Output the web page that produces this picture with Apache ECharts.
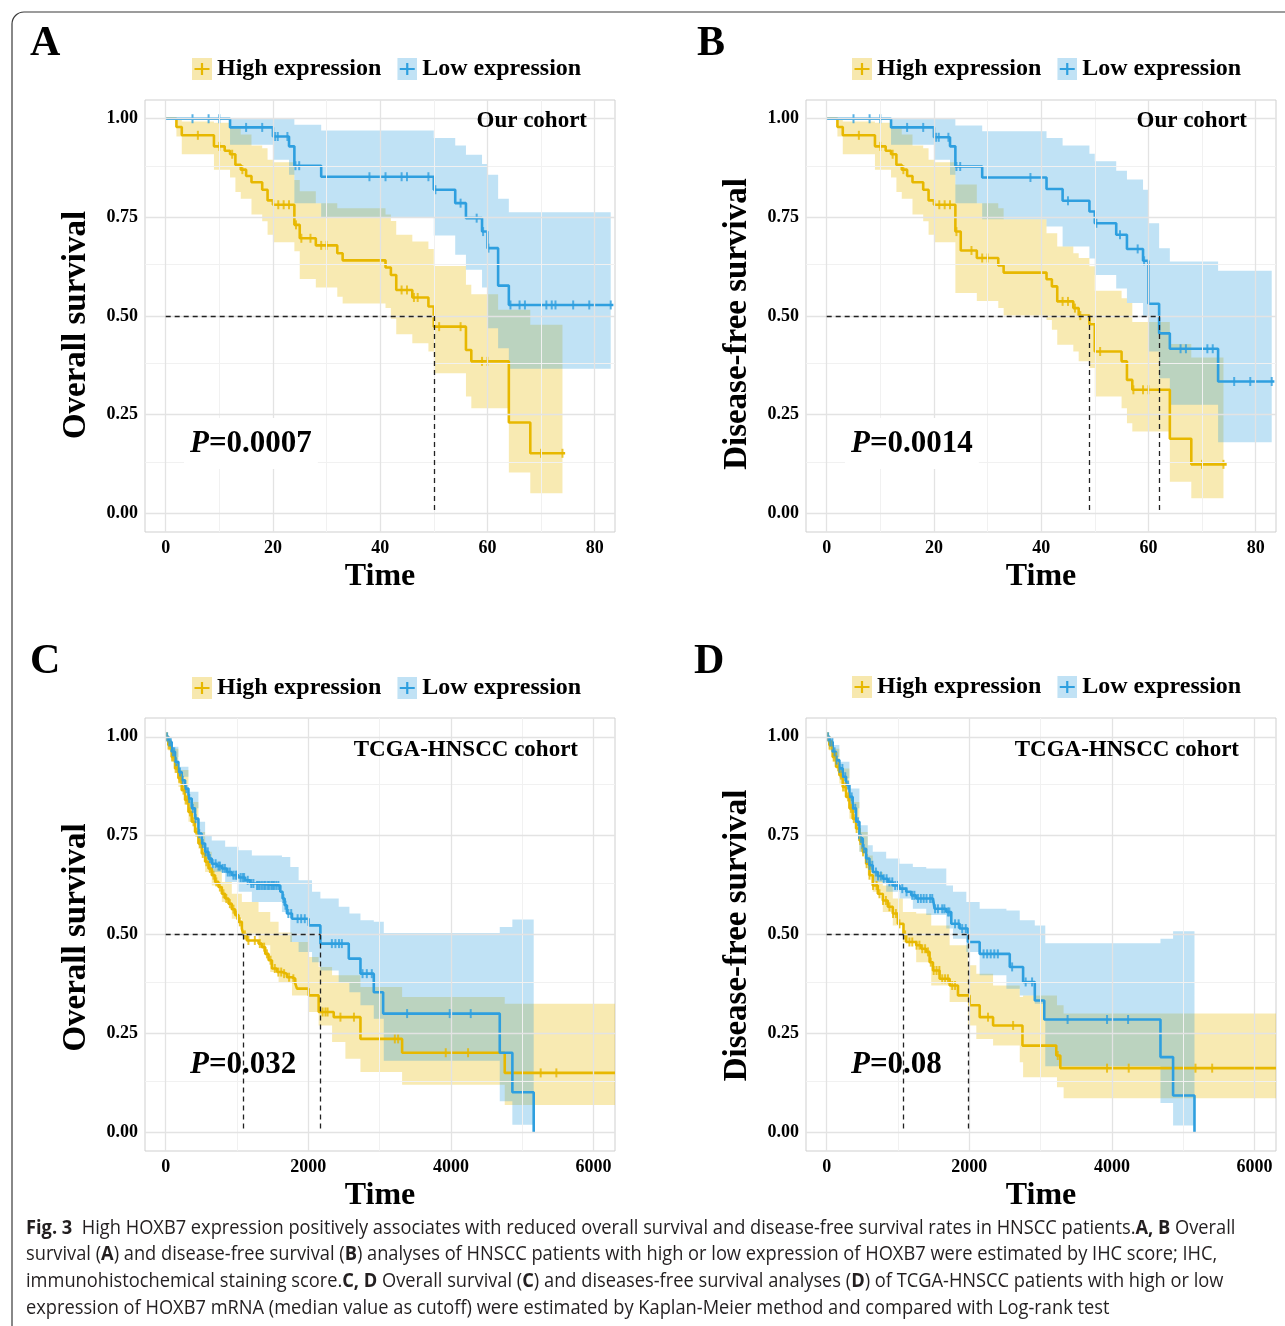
<!DOCTYPE html>
<html><head><meta charset="utf-8">
<script src="https://cdn.jsdelivr.net/npm/echarts@6/dist/echarts.min.js"></script>
<style>html,body{margin:0;padding:0;background:#fff}#c{width:1285px;height:1326px}</style>
</head><body><div id="c"></div>
<script>
// ---------------- DATA ----------------
const legendNames = ['High expression', 'Low expression'];
const yTicks = [0, 0.25, 0.5, 0.75, 1];
const yMinorTicks = [0.125, 0.375, 0.625, 0.875];
const xTicksMonths = [0, 20, 40, 60, 80];
const xMinorMonths = [10, 30, 50, 70];
const xTicksDays = [0, 2000, 4000, 6000];
const xMinorDays = [1000, 3000, 5000];

// Panel A (Our cohort, overall survival)
const aHighT = [0,2,3,9,11,12,13,14,15,16,18,19,20,24,25,28,32,33,41,42,43,46,49,50,56,57,64,68,74.5];
const aHighS = [1,0.979,0.958,0.930,0.919,0.910,0.883,0.871,0.855,0.839,0.820,0.793,0.782,0.731,0.697,0.679,0.659,0.641,0.623,0.604,0.566,0.547,0.524,0.473,0.414,0.385,0.230,0.152,0.152];
const aHighCens = [6,10,12.4,14.3,21,22,23,24.3,25.3,27,29,30,44,45,46.3,47,51,55,59,60,70,74];
const aLowT = [0,12,20,23,24,29,50,54,56,59,60,62,64,83.5];
const aLowS = [1,0.978,0.955,0.930,0.881,0.853,0.820,0.786,0.748,0.714,0.672,0.577,0.528,0.528];
const aLowCens = [5,8,10,15,18,20.4,20.9,22.7,24.2,24.9,38,41,44,45,49,50.3,55,58,59.2,60.2,64.3,66,67,71,72,72.7,76,79,83];
const aHighBandT = [0,2,3,9,12,13,14,16,18,19,20,24,25,28,32,33,41,42,43,46,49,50,56,57,62,64,68,74];
const aHighBandLo = [1,0.955,0.910,0.871,0.851,0.814,0.797,0.757,0.740,0.706,0.687,0.664,0.594,0.572,0.549,0.532,0.520,0.493,0.454,0.431,0.410,0.355,0.296,0.266,0.266,0.103,0.051,0.051];
const aHighBandHi = [1,1,0.993,0.99,0.976,0.976,0.96,0.932,0.925,0.896,0.89,0.845,0.816,0.786,0.773,0.773,0.757,0.741,0.706,0.689,0.670,0.627,0.579,0.555,0.516,0.516,0.478,0.478];
const aLowBandT = [0,12,20,23,24,29,50,54,56,59,60,62,64,83];
const aLowBandLo = [1,0.934,0.896,0.858,0.786,0.750,0.704,0.655,0.617,0.572,0.469,0.418,0.366,0.366];
const aLowBandHi = [1,1,1,1,0.985,0.970,0.951,0.932,0.909,0.885,0.858,0.797,0.763,0.763];
const aMedians = [50];

// Panel B (Our cohort, disease-free survival)
const bHighT = [0,2,3,9,11,12,13,14,15,16,18,19,20,24,25,28,32,33,41,42,43,46,47,49,50,55,56,57,64,68,74.6];
const bHighS = [1,0.979,0.958,0.930,0.919,0.910,0.883,0.871,0.855,0.839,0.820,0.793,0.782,0.714,0.666,0.647,0.628,0.610,0.593,0.575,0.537,0.520,0.501,0.479,0.410,0.385,0.338,0.313,0.189,0.124,0.124];
const bHighCens = [6,10,12.3,14.3,21,22,23,24.2,27,29,30,44,45,46.3,47.3,51,57.2,59,60,70,74];
const bLowT = [0,12,20,23,24,29,41,44,49,50,54,56,59,60,62,64,73,83.5];
const bLowS = [1,0.978,0.953,0.930,0.879,0.851,0.822,0.792,0.765,0.735,0.706,0.670,0.640,0.531,0.456,0.417,0.334,0.334];
const bLowCens = [5,8,10,15,18,20.4,20.9,22.7,24.2,24.9,38,45,50.3,54.7,58,59.2,66,67,71,72,76,79,83];
const bHighBandT = [0,2,3,9,12,13,14,16,18,19,20,24,28,32,33,41,42,43,46,47,49,50,55,56,57,64,68,74];
const bHighBandLo = [1,0.955,0.910,0.871,0.851,0.814,0.797,0.757,0.740,0.706,0.687,0.558,0.538,0.520,0.501,0.490,0.465,0.427,0.410,0.385,0.368,0.296,0.266,0.228,0.207,0.080,0.038,0.038];
const bHighBandHi = [1,1,0.993,0.99,0.976,0.976,0.96,0.932,0.925,0.896,0.89,0.833,0.786,0.773,0.745,0.710,0.710,0.676,0.659,0.647,0.626,0.564,0.545,0.533,0.485,0.429,0.395,0.395];
const bLowBandT = [0,12,20,23,24,29,41,44,49,50,54,56,59,60,62,64,73,83];
const bLowBandLo = [1,0.934,0.896,0.858,0.786,0.745,0.727,0.676,0.646,0.604,0.570,0.533,0.500,0.410,0.342,0.275,0.180,0.180];
const bLowBandHi = [1,1,1,1,0.983,0.968,0.951,0.932,0.911,0.892,0.868,0.846,0.820,0.735,0.672,0.638,0.615,0.615];
const bMedians = [49, 62];

// Panel C (TCGA, overall survival)
const cHighT = [0,37,84,131,178,225,272,319,365,412,459,506,553,600,646,693,740,787,834,881,927,974,1021,1068,1091,1138,1302,1349,1396,1443,1490,1560,1630,1700,1771,1817,1841,2005,2145,2356,2731,3315,4754,6300];
const cHighS = [1,0.979,0.949,0.920,0.895,0.865,0.840,0.810,0.785,0.759,0.730,0.705,0.684,0.667,0.650,0.633,0.620,0.603,0.591,0.578,0.564,0.549,0.532,0.515,0.499,0.485,0.477,0.468,0.451,0.435,0.414,0.405,0.401,0.392,0.388,0.376,0.363,0.346,0.304,0.291,0.236,0.201,0.150,0.150];
const cHighCens = [15,40,60,90,110,140,160,190,210,250,280,300,340,390,430,480,520,570,620,670,710,760,810,850,900,950,1000,1040,1110,1160,1250,1320,1380,1420,1470,1530,1580,1620,1660,1730,1790,2200,2240,2270,2450,2640,3213,3259,3927,4240,5258,5478];
const cLowT = [0,37,84,131,178,225,272,319,365,412,459,506,553,600,646,717,787,857,927,1021,1115,1185,1255,1607,1639,1668,1700,1771,2005,2169,2567,2731,2918,3049,4684,4861,5160];
const cLowS = [1,0.987,0.962,0.937,0.911,0.890,0.869,0.844,0.819,0.793,0.755,0.730,0.709,0.692,0.679,0.673,0.667,0.658,0.650,0.644,0.637,0.629,0.624,0.608,0.591,0.574,0.553,0.540,0.523,0.477,0.439,0.401,0.354,0.300,0.201,0.101,0];
const cLowCens = [20,50,70,100,120,150,200,240,290,330,380,420,470,520,560,590,620,660,700,740,760,800,830,870,900,950,980,1000,1050,1080,1100,1150,1200,1230,1280,1300,1320,1350,1380,1400,1430,1450,1480,1500,1520,1550,1580,1650,1680,1720,1760,1850,1900,1950,2330,2380,2430,2470,2760,2820,2890,3385,3983,4277];
const cHighBandT = [0,37,84,178,319,459,553,646,787,927,1068,1302,1466,1583,1771,2005,2145,2333,2520,2731,3315,4754,6300];
const cHighBandHi = [1,0.992,0.970,0.916,0.835,0.759,0.709,0.667,0.633,0.603,0.582,0.557,0.532,0.505,0.481,0.443,0.418,0.397,0.397,0.367,0.342,0.325,0.325];
const cHighBandLo = [1,0.965,0.941,0.873,0.785,0.717,0.658,0.624,0.582,0.540,0.502,0.473,0.405,0.380,0.346,0.304,0.270,0.228,0.186,0.152,0.120,0.069,0.069];
const cLowBandT = [0,37,84,178,319,459,553,646,834,1021,1208,1630,1747,1864,2052,2169,2426,2576,2731,2918,3058,4684,4861,5160];
const cLowBandHi = [1,0.995,0.975,0.924,0.861,0.785,0.751,0.738,0.722,0.713,0.700,0.696,0.671,0.637,0.608,0.591,0.570,0.553,0.536,0.532,0.504,0.519,0.538,0.538];
const cLowBandLo = [1,0.975,0.949,0.899,0.819,0.726,0.684,0.658,0.633,0.608,0.582,0.557,0.481,0.456,0.430,0.409,0.380,0.354,0.321,0.287,0.181,0.078,0.019,0.019];
const cMedians = [1091, 2169];

// Panel D (TCGA, disease-free survival)
const dHighT = [0,37,84,131,178,225,272,319,365,412,459,506,553,600,646,717,787,857,927,998,1077,1115,1255,1326,1396,1443,1490,1583,1724,1841,2005,2145,2333,2745,3219,3276,6300];
const dHighS = [1,0.979,0.949,0.924,0.903,0.873,0.848,0.819,0.793,0.768,0.738,0.709,0.679,0.650,0.624,0.603,0.586,0.570,0.553,0.527,0.499,0.481,0.473,0.464,0.456,0.430,0.409,0.388,0.371,0.346,0.321,0.291,0.270,0.219,0.194,0.162,0.162];
const dHighCens = [15,40,70,100,130,160,200,230,260,300,340,380,420,470,510,560,600,650,700,740,790,830,880,930,970,1020,1100,1160,1200,1260,1300,1340,1380,1420,1460,1500,1540,1580,1620,1660,1700,1760,1800,2262,2614,3240,3931,4235,5171,5405];
const dLowT = [0,37,84,131,178,225,272,319,365,412,459,506,553,600,646,717,787,857,927,1021,1115,1185,1255,1490,1513,1677,1747,1864,1981,2145,2567,2754,2918,3051,4680,4857,5157];
const dLowS = [1,0.987,0.962,0.941,0.920,0.899,0.878,0.848,0.819,0.785,0.743,0.717,0.692,0.675,0.658,0.648,0.641,0.633,0.624,0.616,0.608,0.599,0.591,0.586,0.565,0.557,0.527,0.515,0.481,0.451,0.418,0.380,0.333,0.285,0.190,0.093,0];
const dLowCens = [20,50,80,110,140,180,220,260,300,350,400,440,480,520,560,600,640,690,720,760,800,840,880,920,960,1000,1060,1120,1200,1230,1280,1320,1360,1400,1450,1480,1520,1560,1620,1650,1700,1720,1800,1850,1900,1950,2200,2250,2300,2350,2400,2600,2790,2880,3378,3931,4226];
const dHighBandT = [0,37,84,178,319,459,576,646,787,927,1068,1255,1466,1724,1981,2098,2333,2707,2754,3229,3322,6300];
const dHighBandHi = [1,0.992,0.970,0.920,0.835,0.759,0.700,0.658,0.624,0.591,0.557,0.553,0.523,0.473,0.422,0.401,0.371,0.342,0.346,0.321,0.300,0.300];
const dHighBandLo = [1,0.965,0.937,0.882,0.793,0.709,0.650,0.608,0.557,0.523,0.481,0.430,0.371,0.329,0.270,0.236,0.219,0.177,0.139,0.114,0.086,0.086];
const dLowBandT = [0,37,84,178,319,459,576,646,834,1021,1208,1396,1677,1771,1958,2145,2520,2707,2918,3065,4680,4857,5157];
const dLowBandHi = [1,0.995,0.979,0.937,0.869,0.776,0.726,0.709,0.692,0.679,0.671,0.667,0.624,0.608,0.582,0.565,0.561,0.536,0.523,0.478,0.489,0.508,0.508];
const dLowBandLo = [1,0.975,0.949,0.895,0.819,0.709,0.667,0.633,0.608,0.591,0.565,0.549,0.515,0.489,0.456,0.397,0.363,0.346,0.325,0.167,0.074,0.017,0.017];
const dMedians = [1077, 1981];

const pValues = ['0.0007', '0.0014', '0.032', '0.08'];
const cohortLabels = ['Our cohort', 'Our cohort', 'TCGA-HNSCC cohort', 'TCGA-HNSCC cohort'];
const yNames = ['Overall survival', 'Disease-free survival', 'Overall survival', 'Disease-free survival'];
const panelLetters = ['A', 'B', 'C', 'D'];
const captionLines = [
  '{b|Fig. 3}  High HOXB7 expression positively associates with reduced overall survival and disease-free survival rates in HNSCC patients.{b|A, B} Overall',
  'survival ({b|A}) and disease-free survival ({b|B}) analyses of HNSCC patients with high or low expression of HOXB7 were estimated by IHC score; IHC,',
  'immunohistochemical staining score.{b|C, D} Overall survival ({b|C}) and diseases-free survival analyses ({b|D}) of TCGA-HNSCC patients with high or low',
  'expression of HOXB7 mRNA (median value as cutoff) were estimated by Kaplan-Meier method and compared with Log-rank test'
];

// ---------------- STYLE / LAYOUT ----------------
const SERIF = '"Liberation Serif", "DejaVu Serif", serif';
const SANS = '"Open Sans", "Noto Sans", sans-serif';
const YELLOW = '#E7B800', BLUE = '#2E9FDF';
const YBAND = 'rgba(231,184,0,0.3)', BBAND = 'rgba(46,159,223,0.3)';
const layout = [
  {left: 145, top: 100, width: 470, height: 432, xmin: -3.86, xmax: 83.8, xt: xTicksMonths, xm: xMinorMonths, legendX: 192, legendY: 57, letter: [30, 23], pPos: [184, 418], pBg: true, cohortRight: 698, cohortTop: 110, yNamePad: 18},
  {left: 806, top: 100, width: 470, height: 432, xmin: -3.86, xmax: 83.8, xt: xTicksMonths, xm: xMinorMonths, legendX: 852, legendY: 57, letter: [697, 23], pPos: [845, 418], pBg: true, cohortRight: 38, cohortTop: 110, yNamePad: 16},
  {left: 145, top: 718, width: 470, height: 433, xmin: -290, xmax: 6300, xt: xTicksDays, xm: xMinorDays, legendX: 192, legendY: 676, letter: [30, 641], pPos: [190, 1049], pBg: false, cohortRight: 707, cohortTop: 739, yNamePad: 6},
  {left: 806, top: 718, width: 470, height: 433, xmin: -290, xmax: 6300, xt: xTicksDays, xm: xMinorDays, legendX: 852, legendY: 675, letter: [694, 641], pPos: [851, 1049], pBg: false, cohortRight: 46, cohortTop: 739, yNamePad: 2}
];
const panelData = [
  {hT: aHighT, hS: aHighS, hC: aHighCens, lT: aLowT, lS: aLowS, lC: aLowCens, hbT: aHighBandT, hbL: aHighBandLo, hbH: aHighBandHi, lbT: aLowBandT, lbL: aLowBandLo, lbH: aLowBandHi, med: aMedians},
  {hT: bHighT, hS: bHighS, hC: bHighCens, lT: bLowT, lS: bLowS, lC: bLowCens, hbT: bHighBandT, hbL: bHighBandLo, hbH: bHighBandHi, lbT: bLowBandT, lbL: bLowBandLo, lbH: bLowBandHi, med: bMedians},
  {hT: cHighT, hS: cHighS, hC: cHighCens, lT: cLowT, lS: cLowS, lC: cLowCens, hbT: cHighBandT, hbL: cHighBandLo, hbH: cHighBandHi, lbT: cLowBandT, lbL: cLowBandLo, lbH: cLowBandHi, med: cMedians},
  {hT: dHighT, hS: dHighS, hC: dHighCens, lT: dLowT, lS: dLowS, lC: dLowCens, hbT: dHighBandT, hbL: dHighBandLo, hbH: dHighBandHi, lbT: dLowBandT, lbL: dLowBandLo, lbH: dLowBandHi, med: dMedians}
];

function stepAt(T, S, t) { let v = S[0]; for (let i = 0; i < T.length; i++) { if (T[i] <= t) v = S[i]; else break; } return v; }

function bandSeries(p, T, L, H, color) {
  const data = T.map((t, i) => [t, L[i], H[i]]);
  return {
    type: 'custom', xAxisIndex: p, yAxisIndex: p, silent: true, z: 2, animation: false,
    dimensions: ['t', 'lo', 'hi'], encode: {x: 't', y: ['lo', 'hi']},
    data,
    renderItem(params, api) {
      if (params.dataIndex !== 0) return null;
      const up = [], lo = [];
      for (let i = 0; i < data.length - 1; i++) {
        const t0 = data[i][0], t1 = data[i + 1][0];
        up.push(api.coord([t0, data[i][2]]), api.coord([t1, data[i][2]]));
        lo.push(api.coord([t0, data[i][1]]), api.coord([t1, data[i][1]]));
      }
      return {type: 'polygon', shape: {points: up.concat(lo.reverse())}, style: {fill: color}};
    }
  };
}
function lineSeries(p, name, T, S, color) {
  return {type: 'line', name, xAxisIndex: p, yAxisIndex: p, step: 'end', showSymbol: false, symbol: 'none', silent: true, z: 3, animation: false,
    lineStyle: {color, width: 2.6}, itemStyle: {color}, data: T.map((t, i) => [t, S[i]])};
}
function censorSeries(p, name, C, T, S, color) {
  return {type: 'scatter', name, xAxisIndex: p, yAxisIndex: p, symbol: 'rect', symbolSize: [2, 9], silent: true, z: 4, animation: false,
    itemStyle: {color}, data: C.map(t => [t, stepAt(T, S, t)])};
}
function gridLineSeries(p, xMajor, xMinor) {
  const d = [];
  xMinor.forEach(v => d.push({xAxis: v, lineStyle: {color: '#f1f1f1', width: 1, type: 'solid'}}));
  yMinorTicks.forEach(v => d.push({yAxis: v, lineStyle: {color: '#f1f1f1', width: 1, type: 'solid'}}));
  xMajor.forEach(v => d.push({xAxis: v, lineStyle: {color: '#e3e3e3', width: 1.3, type: 'solid'}}));
  yTicks.forEach(v => d.push({yAxis: v, lineStyle: {color: '#e3e3e3', width: 1.3, type: 'solid'}}));
  return {type: 'line', xAxisIndex: p, yAxisIndex: p, data: [], silent: true, z: 1, animation: false,
    markLine: {silent: true, symbol: ['none', 'none'], label: {show: false}, animation: false, data: d}};
}
function medianSeries(p, med) {
  const maxM = Math.max(...med);
  const d = [[{coord: [0, 0.5]}, {coord: [maxM, 0.5]}]];
  med.forEach(m => d.push([{coord: [m, 0.5]}, {coord: [m, 0]}]));
  return {type: 'line', xAxisIndex: p, yAxisIndex: p, data: [], silent: true, z: 5, animation: false,
    markLine: {silent: true, symbol: ['none', 'none'], label: {show: false}, animation: false,
      lineStyle: {color: '#222', width: 1.3, type: [5, 4]}, data: d}};
}

function svgIcon(fill, stroke) {
  const svg = `<svg xmlns="http://www.w3.org/2000/svg" width="20" height="22"><rect width="20" height="22" fill="${fill}"/><path d="M2.5 11H17.5M10 5V17" stroke="${stroke}" stroke-width="2.2"/></svg>`;
  return 'image://data:image/svg+xml;charset=utf-8,' + encodeURIComponent(svg);
}
const iconHigh = svgIcon('#f7e8ae', YELLOW);
const iconLow = svgIcon('#c1e2f5', BLUE);

const grids = [], xAxes = [], yAxes = [], series = [], legends = [], titles = [];
layout.forEach((L, p) => {
  const D = panelData[p];
  grids.push({left: L.left, top: L.top, width: L.width, height: L.height, containLabel: false, outerBoundsMode: 'none',
    show: true, borderColor: '#cfcfcf', borderWidth: 1, backgroundColor: '#fff'});
  xAxes.push({type: 'value', gridIndex: p, min: L.xmin, max: L.xmax,
    name: 'Time', nameLocation: 'middle', nameGap: 29,
    nameTextStyle: {fontFamily: SERIF, fontWeight: 'bold', fontSize: 32, color: '#000'},
    axisLine: {show: false}, splitLine: {show: false},
    axisTick: {show: true, customValues: L.xt, length: 4, lineStyle: {color: '#333'}},
    axisLabel: {customValues: L.xt, margin: 7, fontFamily: SERIF, fontWeight: 'bold', fontSize: 18, color: '#000', formatter: v => String(v)}});
  yAxes.push({type: 'value', gridIndex: p, min: -0.0475, max: 1.0475,
    name: yNames[p], nameLocation: 'middle', nameGap: 52,
    nameTextStyle: {fontFamily: SERIF, fontWeight: 'bold', fontSize: 33, color: '#000', padding: [0, L.yNamePad, 0, 0]},
    axisLine: {show: false}, splitLine: {show: false},
    axisTick: {show: true, customValues: yTicks, length: 4, lineStyle: {color: '#333'}},
    axisLabel: {customValues: yTicks, margin: 7, fontFamily: SERIF, fontWeight: 'bold', fontSize: 18, color: '#000', formatter: v => v.toFixed(2)}});
  series.push(gridLineSeries(p, L.xt, L.xm));
  series.push(bandSeries(p, D.hbT, D.hbL, D.hbH, YBAND));
  series.push(bandSeries(p, D.lbT, D.lbL, D.lbH, BBAND));
  series.push(lineSeries(p, legendNames[0], D.hT, D.hS, YELLOW));
  series.push(lineSeries(p, legendNames[1], D.lT, D.lS, BLUE));
  series.push(censorSeries(p, legendNames[0], D.hC, D.hT, D.hS, YELLOW));
  series.push(censorSeries(p, legendNames[1], D.lC, D.lT, D.lS, BLUE));
  series.push(medianSeries(p, D.med));
  legends.push({left: L.legendX, top: L.legendY, padding: 0, itemGap: 16, itemWidth: 20, itemHeight: 22, selectedMode: false,
    textStyle: {fontFamily: SERIF, fontWeight: 'bold', fontSize: 24, color: '#000'},
    data: [{name: legendNames[0], icon: iconHigh}, {name: legendNames[1], icon: iconLow}]});
  titles.push({text: panelLetters[p], left: L.letter[0], top: L.letter[1], padding: 0,
    textStyle: {fontFamily: SERIF, fontWeight: 'bold', fontSize: 42, color: '#000'}});
  titles.push({text: cohortLabels[p], right: L.cohortRight, top: L.cohortTop, padding: 0,
    textStyle: {fontFamily: SERIF, fontWeight: 'bold', fontSize: 23, color: '#000'}});
  const pt = {text: '{i|P}{n|=' + pValues[p] + '}', left: L.pPos[0], top: L.pPos[1],
    textStyle: {rich: {
      i: {fontFamily: SERIF, fontWeight: 'bold', fontStyle: 'italic', fontSize: 31, color: '#000'},
      n: {fontFamily: SERIF, fontWeight: 'bold', fontSize: 31, color: '#000'}}}};
  if (L.pBg) { pt.backgroundColor = '#fff'; pt.padding = [10, 6]; } else { pt.padding = 0; }
  titles.push(pt);
});

// caption
const CAP_SIZE = 20;
const mctx = document.createElement('canvas').getContext('2d');
mctx.font = CAP_SIZE + 'px "Open Sans"';
const plain1 = captionLines[0].replace(/\{b\|([^}]*)\}/g, '$1');
const capScale = 1205 / mctx.measureText(plain1).width;
const capY = [1228, 1254, 1281, 1308];
const graphics = [{type: 'rect', z: 100, silent: true, shape: {x: 12, y: 12, width: 1400, height: 1400, r: 12}, style: {fill: 'none', stroke: '#3a3a3a', lineWidth: 1.2}}];
captionLines.forEach((ln, i) => {
  graphics.push({type: 'text', x: 26, y: capY[i], scaleX: capScale, silent: true, z: 100,
    style: {text: ln, fontFamily: SANS, fontSize: CAP_SIZE, fill: '#231f20', verticalAlign: 'middle', align: 'left',
      rich: {b: {fontFamily: SANS, fontSize: CAP_SIZE, fontWeight: 'bold', fill: '#231f20'}}}});
});

const chart = echarts.init(document.getElementById('c'), null, {renderer: 'canvas'});
chart.setOption({
  animation: false,
  backgroundColor: '#fff',
  title: titles,
  legend: legends,
  grid: grids,
  xAxis: xAxes,
  yAxis: yAxes,
  series,
  graphic: graphics
});
</script></body></html>
